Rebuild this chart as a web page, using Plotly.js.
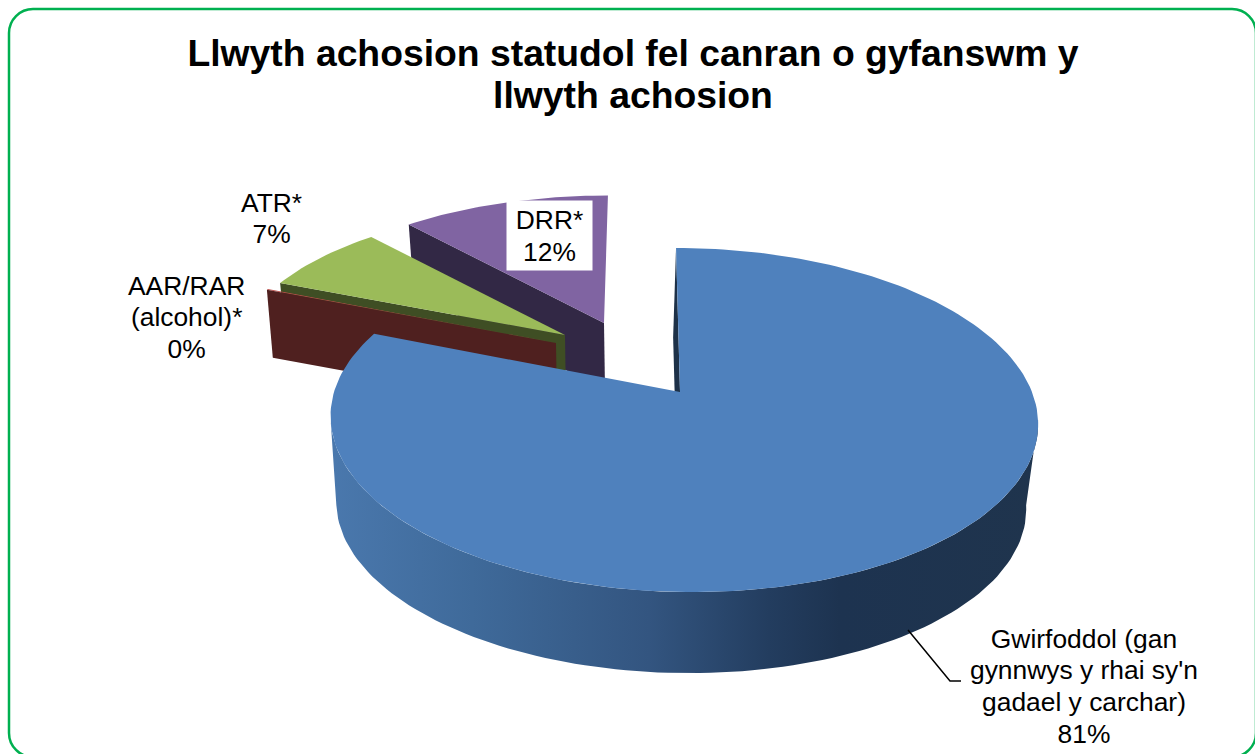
<!DOCTYPE html>
<html>
<head>
<meta charset="utf-8">
<script src="https://cdn.plot.ly/plotly-3.0.1.min.js"></script>
<style>html,body{margin:0;padding:0;background:#fff}#chart{width:1255px;height:754px}</style>
</head>
<body>
<div id="chart"></div>
<script>
// ---- data ----
const categories = ["Gwirfoddol (gan<br>gynnwys y rhai sy'n<br>gadael y carchar)", "AAR/RAR<br>(alcohol)*", "ATR*", "DRR*"];
const shares = [81, 0.1, 7.3, 11.6];
const titleText = "Llwyth achosion statudol fel canran o gyfanswm y<br>llwyth achosion";

// ---- styles ----
const topColors = ["#4f81bd", "#c0504d", "#9bbb59", "#8064a2"];
const wallColors = ["#1d3148", "#4f201f", "#3f4e24", "#322845"];
const sideGradient = [[0, "#4a78ad"], [0.2, "#3f6a9a"], [0.45, "#335580"], [0.62, "#233d5f"], [0.72, "#1d3350"], [1, "#1f344d"]];
const FONT = "Liberation Sans, Arial, sans-serif";

// ---- perspective pie model (pixel-mapped axes) ----
const persp = {k: 0.163, bx: 349, by: 167.5, skew: -8.1, ox: 3};
// apex position, scale, and floor offset for each (exploded) slice
const placing = [
  {ax: 680, ay: 392, sx: 1,     sy: 1,     tilt: 0, fx: -3, fy: 86, fs: 0.975},
  {ax: 556, ay: 343, sx: 0.945, sy: 0.915, tilt: 0, fx: 1,  fy: 67, fs: 0.983},
  {ax: 565, ay: 335, sx: 0.94,  sy: 0.88,  tilt: 5, fx: 1,  fy: 67, fs: 0.98},
  {ax: 604, ay: 323, sx: 0.96,  sy: 0.885, tilt: 9, fx: 1,  fy: 67, fs: 0.98}
];
function rim(deg, p, floor) {
  const t = deg * Math.PI / 180, u = Math.sin(t), v = Math.cos(t), d = 1 + persp.k * v;
  const f = floor ? p.fs : 1;
  return [
    p.ax + (floor ? p.fx : 0) + f * p.sx * ((persp.bx * u + persp.skew * v) / d + persp.ox) + p.tilt * v / d,
    p.ay + (floor ? p.fy : 0) - f * p.sy * persp.by * v / d
  ];
}
const total = shares.reduce((a, b) => a + b, 0);
let acc = 0;
const arcs = shares.map(v => { const a = [acc, acc + v / total * 360]; acc = a[1]; return a; });
function arc(a, p, floor) {
  const n = Math.max(2, Math.ceil((a[1] - a[0]) / 1.5)), pts = [];
  for (let i = 0; i <= n; i++) pts.push(rim(a[0] + (a[1] - a[0]) * i / n, p, floor));
  return pts;
}
function poly(pts, color, name, grad) {
  const t = {type: "scatter", mode: "lines", fill: "toself", x: pts.map(q => q[0]), y: pts.map(q => q[1]),
    line: {width: 0, color: color}, fillcolor: color, hoverinfo: "skip", showlegend: false, name: name};
  if (grad) t.fillgradient = {type: "horizontal", colorscale: grad};
  return t;
}
function apex(p, floor) { return [p.ax + (floor ? p.fx : 0), p.ay + (floor ? p.fy : 0)]; }
function wallAt(deg, i) {
  const p = placing[i];
  return [rim(deg, p, false), apex(p, false), apex(p, true), rim(deg, p, true)];
}
function topFace(i) { return [apex(placing[i], false)].concat(arc(arcs[i], placing[i], false)); }

// the front of the blue drum runs between the two points where its outline is widest
const tangent = Math.acos(-persp.k) * 180 / Math.PI;
const front = [tangent, 360 - tangent];

const traces = [
  poly(wallAt(arcs[3][0], 3), wallColors[3], "DRR wall"),
  poly(topFace(3), topColors[3], "DRR"),
  poly(wallAt(arcs[2][0], 2), wallColors[2], "ATR wall"),
  poly(topFace(2), topColors[2], "ATR"),
  poly(topFace(1), topColors[1], "AAR"),
  poly(wallAt(arcs[1][0], 1), wallColors[1], "AAR wall"),
  poly(arc(front, placing[0], false).concat(arc(front, placing[0], true).reverse()), wallColors[0], "side", sideGradient),
  poly(wallAt(arcs[0][0], 0), wallColors[0], "Gwirfoddol wall"),
  poly(topFace(0), topColors[0], "Gwirfoddol")
];

const label = i => categories[i] + "<br>" + Math.round(shares[i] / total * 100) + "%";
const ann = (i, x, y, extra) => Object.assign({text: label(i), x: x, y: y, xref: "x", yref: "y", showarrow: false,
  xanchor: "center", yanchor: "middle", align: "center", font: {family: FONT, size: 26.4, color: "#000"}}, extra || {});

const R = 24, K = R * 0.448, L = 9, T = 9, X = 1256, Y = 757;
const border = `M ${L + R} ${T} L ${X - R} ${T} C ${X - K} ${T} ${X} ${T + K} ${X} ${T + R} L ${X} ${Y - R} C ${X} ${Y - K} ${X - K} ${Y} ${X - R} ${Y} L ${L + R} ${Y} C ${L + K} ${Y} ${L} ${Y - K} ${L} ${Y - R} L ${L} ${T + R} C ${L} ${T + K} ${L + K} ${T} ${L + R} ${T} Z`;

Plotly.newPlot("chart", traces, {
  width: 1255, height: 754, margin: {l: 0, r: 0, t: 0, b: 0, pad: 0},
  paper_bgcolor: "#fff", plot_bgcolor: "#fff", showlegend: false,
  title: {text: titleText, x: 633 / 1255, xanchor: "center", y: 0.913, yanchor: "top",
    font: {family: FONT, size: 37.3, color: "#000", weight: "bold"}},
  xaxis: {range: [0, 1255], visible: false, fixedrange: true},
  yaxis: {range: [754, 0], visible: false, fixedrange: true},
  shapes: [
    {type: "path", path: border, xref: "x", yref: "y", line: {color: "#00b050", width: 2.5}, layer: "below"},
    {type: "path", path: "M 908 630 L 950 681 L 961 681", xref: "x", yref: "y", line: {color: "#000", width: 1.5}}
  ],
  annotations: [
    ann(0, 1084, 688),
    ann(1, 186, 318),
    ann(2, 271, 218),
    ann(3, 549.5, 235, {bgcolor: "#fff", width: 83, height: 67})
  ]
}, {displayModeBar: false, staticPlot: true}).then(() => {
  // the reference sets its lines tighter than Plotly's default 1.3em
  const tighten = (sel, em, off) => document.querySelectorAll(sel).forEach(el => {
    el.querySelectorAll("tspan.line").forEach((s, i) => s.setAttribute("dy", (off + i * em) + "em"));
  });
  tighten(".gtitle", 1.126, 0);
  tighten(".annotation-text", 1.2, 0.06);
});
</script>
</body>
</html>
